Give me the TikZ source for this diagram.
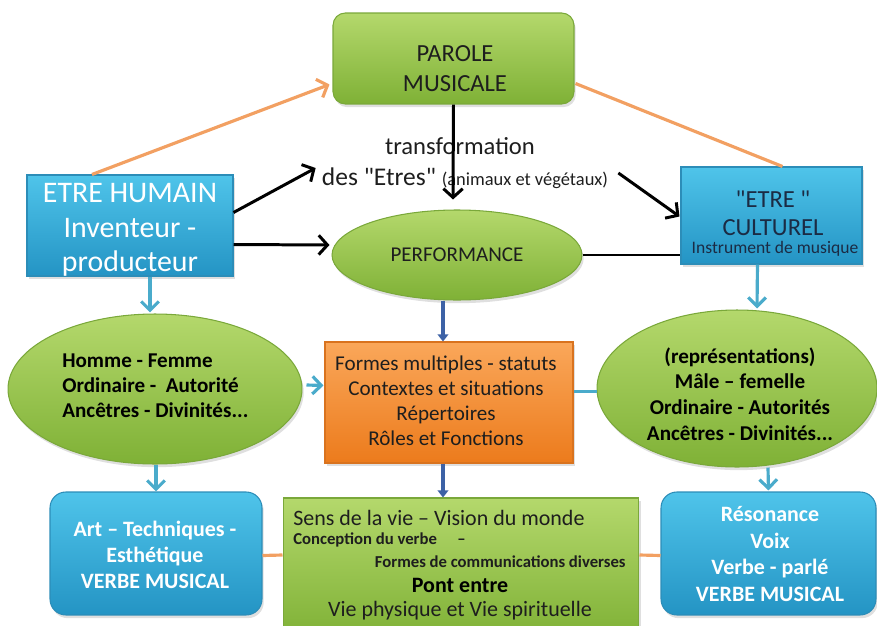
\documentclass[tikz,border=0pt]{standalone}
\usepackage{fontspec}
\setmainfont{Carlito}
\usetikzlibrary{arrows.meta,shapes.geometric,shadows,calc}
\definecolor{gtop}{HTML}{B4D86C}
\definecolor{gbot}{HTML}{7FB136}
\definecolor{gline}{HTML}{7AA83A}
\definecolor{btop}{HTML}{4FC4EA}
\definecolor{bbot}{HTML}{2494C4}
\definecolor{bline}{HTML}{2C8DB8}
\definecolor{otop}{HTML}{FAA75A}
\definecolor{obot}{HTML}{EC7B1C}
\definecolor{oline}{HTML}{D9731F}
\definecolor{orl}{HTML}{F2A062}
\definecolor{bll}{HTML}{4AABCB}
\definecolor{dbl}{HTML}{3D62A6}
\definecolor{txtd}{HTML}{1E1E1E}
\definecolor{txtc}{HTML}{1B2B44}
\newcommand\fsz[2]{\fontsize{#1}{#2}\selectfont}
\newcommand\dqt{\XeTeXglyph\XeTeXcharglyph34\relax}
\tikzset{
  shd/.style={drop shadow={opacity=0.25,shadow xshift=1pt,shadow yshift=-1.8pt}},
  greenbox/.style={draw=gline,line width=0.6pt,top color=gtop,bottom color=gbot,shd,inner sep=0pt},
  bluebox/.style={draw=bline,line width=0.6pt,top color=btop,bottom color=bbot,shd,inner sep=0pt},
  orangebox/.style={draw=oline,line width=0.6pt,top color=otop,bottom color=obot,shd,inner sep=0pt},
  greenell/.style={greenbox,ellipse},
  txt/.style={inner sep=0pt,align=center},
  blk/.style={draw=black,line width=1.7pt,-{Straight Barb[length=5pt,width=11pt]}},
  blkline/.style={draw=black,line width=1.7pt},
  orarr/.style={draw=orl,line width=1.8pt,-{Straight Barb[length=5pt,width=11pt]}},
  orline/.style={draw=orl,line width=1.8pt},
  blarr/.style={draw=bll,line width=1.8pt,-{Straight Barb[length=5pt,width=10pt]}},
  blline/.style={draw=bll,line width=1.8pt},
  dbarr/.style={draw=dbl,line width=1.8pt,-{Triangle[length=4pt,width=6pt]}},
}
\begin{document}
\begin{tikzpicture}[x=0.02cm,y=-0.02cm]
\useasboundingbox (0,0) rectangle (877,626);
% boxes
\node[greenbox,rounded corners=7pt,minimum width=4.82cm,minimum height=1.82cm] (parole) at (453.5,58.5) {};
\node[bluebox,minimum width=4.12cm,minimum height=2.02cm] (humain) at (130,225.5) {};
\node[bluebox,minimum width=3.62cm,minimum height=1.94cm] (culturel) at (771.5,215.5) {};
\node[greenell,minimum width=5.0cm,minimum height=1.8cm] (perf) at (457,255) {};
\node[greenell,minimum width=5.88cm,minimum height=3.0cm] (lell) at (155,389) {};
\node[orangebox,minimum width=4.96cm,minimum height=2.42cm] (orng) at (449,402.5) {};
\node[greenell,minimum width=5.6cm,minimum height=3.14cm] (rell) at (737,388.5) {};
\node[bluebox,rounded corners=9pt,minimum width=4.24cm,minimum height=2.46cm] (lbox) at (156,553.5) {};
\node[bluebox,rounded corners=9pt,minimum width=4.3cm,minimum height=2.46cm] (rbox) at (768.5,553.5) {};
\node[greenbox,minimum width=7.12cm,minimum height=2.8cm] (cbox) at (461,568) {};
% texts
\node[txt,text=txtd,font=\fsz{14}{17}] (paroleT) at (455,69) {PAROLE\\MUSICALE};
\node[txt,text=white,font=\fsz{17}{19.5}] (humainT) at (130,230) {ETRE HUMAIN\\Inventeur -\\producteur};
\node[txt,text=txtc,font=\fsz{14}{16}] (culturelT) at (773,213) {\dqt ETRE \dqt\\CULTUREL};
\node[txt,text=txtc,font=\fsz{10}{12}] (instrT) at (775,249) {Instrument de musique};
\node[txt,text=txtd,font=\fsz{12}{14}] (perfT) at (457,255) {PERFORMANCE};
\node[txt,text=txtd,font=\fsz{14}{17}] (transT) at (460,146) {transformation};
\node[txt,text=txtd,font=\fsz{14.5}{17}] (tdes) at (465,178) {des \dqt Etres\dqt\ {\fsz{10.5}{12}(animaux et végétaux)}};
\node[txt,align=left,anchor=west,text=black,font=\bfseries\fsz{12}{14.2}] (lellT) at (62,386) {Homme - Femme\\Ordinaire -\ \ Autorité\\Ancêtres - Divinités...};
\node[txt,text=txtd,font=\fsz{12}{14.2}] (orngT) at (446,401) {Formes multiples - statuts\\Contextes et situations\\Répertoires\\Rôles et Fonctions};
\node[txt,text=black,font=\bfseries\fsz{12}{14.7}] (rellT) at (740,394) {(représentations)\\Mâle – femelle\\Ordinaire - Autorités\\Ancêtres - Divinités...};
\node[txt,text=white,font=\bfseries\fsz{12.5}{15}] (lboxT) at (155,555) {Art – Techniques -\\Esthétique\\VERBE MUSICAL};
\node[txt,text=white,font=\bfseries\fsz{12.5}{15}] (rboxT) at (770,554) {Résonance\\Voix\\Verbe - parlé\\VERBE MUSICAL};
\node[txt,anchor=west,text=txtd,font=\fsz{12.5}{15}] (c1) at (293,518) {Sens de la vie – Vision du monde};
\node[txt,anchor=west,text=txtd,font=\bfseries\fsz{9.5}{11}] (c2) at (293,540) {Conception du verbe\quad\ –};
\node[txt,anchor=east,text=txtd,font=\bfseries\fsz{9.5}{11}] (c3) at (626,562) {Formes de communications diverses};
\node[txt,text=black,font=\bfseries\fsz{12.5}{15}] (c4) at (460,585) {Pont entre};
\node[txt,text=txtd,font=\fsz{12.5}{15}] (c5) at (460,611) {Vie physique et Vie spirituelle};
% connectors
\draw[orarr] ($(humain.north)+(-38,0)$) -- ($(parole.west)+(-3,26)$);
\draw[orline] ($(parole.east)+(1,25)$) -- ($(culturel.north)+(11,0)$);
\draw[blk] ($(humain.east)+(0,-13)$) -- ($(tdes.west)+(-6,-10)$);
\draw[blk] ($(tdes.east)+(10,-5)$) -- ($(culturel.west)+(-1,1)$);
\draw[blk] ($(humain.east)+(0,19)$) -- ($(perf.west)+(-2,-10)$);
\draw[blkline] (perf.east) -- (culturel.west |- perf.east);
\draw[blk] ($(parole.south)+(0,0)$) -- ($(perf.north)+(-4,-10)$);
\draw[blarr] ($(humain.south)+(20,0)$) -- ($(lell.north)+(-5,-1)$);
\draw[blarr] ($(culturel.south)+(-14,0)$) -- ($(rell.north)+(20,-1)$);
\draw[blarr] ($(lell.east)+(4,-4)$) -- ($(orng.west)+(-1,-17)$);
\draw[blline] ($(orng.east)+(0,-11)$) -- ($(rell.west)+(0,3)$);
\draw[blarr] (lell.south -| lbox.north) -- (lbox.north);
\draw[blarr] ($(rell.south)+(31,0)$) -- ($(rbox.north)+(0,-1)$);
\draw[dbarr] (perf.south -| orng.north) ++(-6,0) -- ($(orng.north)+(-6,0)$);
\draw[dbarr] ($(orng.south)+(-6,0)$) -- ($(cbox.north)+(-18,0)$);
\draw[orline] ($(lbox.east)+(0,2)$) -- ($(cbox.west)+(0,-13)$);
\draw[orline] ($(cbox.east)+(0,-13)$) -- ($(rbox.west)+(0,2)$);
\end{tikzpicture}
\end{document}
